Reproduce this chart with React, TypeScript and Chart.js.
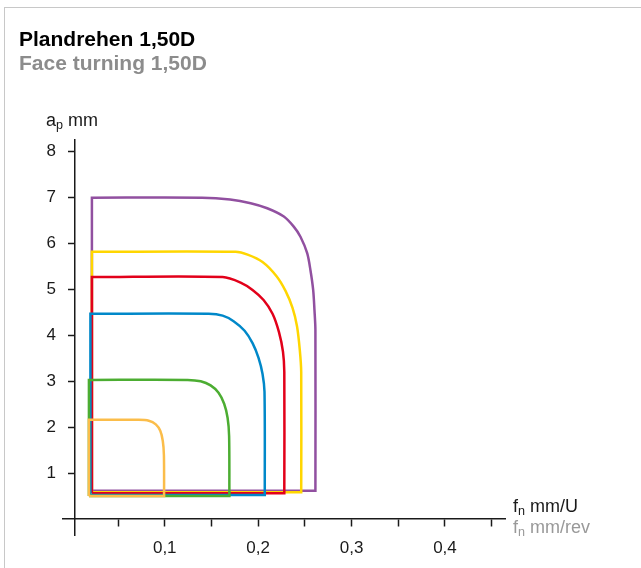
import React, { useEffect, useRef } from "react";
import { Chart, registerables } from "chart.js";

Chart.register(...registerables);

const FONT = '"Liberation Sans", Arial, Helvetica, sans-serif';

// Tick values and labels
const xTickValues = [0.05, 0.1, 0.15, 0.2, 0.25, 0.3, 0.35, 0.4, 0.45];
const xTickLabels = ["", "0,1", "", "0,2", "", "0,3", "", "0,4", ""];
const yTickValues = [1, 2, 3, 4, 5, 6, 7, 8];
const yTickLabels = ["1", "2", "3", "4", "5", "6", "7", "8"];

// Each shape (f_n mm/U, a_p mm): bottom-left, top-left, end of flat top, rounded corner..., bottom-right
const orangeShape: [number, number][] = [
  [0.0188, 0.5], [0.0188, 2.16], [0.0722, 2.16], [0.0829, 2.14], [0.0904, 2.06],
  [0.0952, 1.92], [0.0979, 1.7], [0.0991, 1.39], [0.0993, 0.5],
];
const greenShape: [number, number][] = [
  [0.0188, 0.5], [0.0188, 3.03], [0.1246, 3.03], [0.1385, 3.0], [0.1491, 2.91],
  [0.1576, 2.75], [0.1636, 2.51], [0.1673, 2.2], [0.1689, 1.81], [0.1692, 0.5],
];
const blueShape: [number, number][] = [
  [0.0204, 0.52], [0.0204, 4.47], [0.147, 4.47], [0.162, 4.43], [0.1737, 4.31],
  [0.1855, 4.1], [0.194, 3.83], [0.2004, 3.51], [0.2047, 3.16], [0.2068, 2.77], [0.2071, 0.52],
];
const redShape: [number, number][] = [
  [0.022, 0.56], [0.022, 5.27], [0.162, 5.27], [0.1812, 5.15], [0.194, 4.99],
  [0.2058, 4.77], [0.2154, 4.47], [0.2223, 4.07], [0.2266, 3.64], [0.228, 3.2], [0.228, 0.56],
];
const yellowShape: [number, number][] = [
  [0.022, 0.58], [0.022, 5.82], [0.1759, 5.82], [0.1887, 5.76], [0.2047, 5.6],
  [0.2197, 5.29], [0.2293, 4.97], [0.2368, 4.6], [0.2416, 4.2], [0.2446, 3.68],
  [0.2461, 3.2], [0.2461, 0.58],
];
const purpleShape: [number, number][] = [
  [0.022, 0.617], [0.022, 7.0], [0.14, 7.0], [0.17, 6.96], [0.192, 6.88],
  [0.2097, 6.77], [0.2275, 6.59], [0.2381, 6.37], [0.2453, 6.15], [0.2525, 5.79],
  [0.256, 5.42], [0.2589, 4.99], [0.2603, 4.55], [0.2613, 4.12], [0.2613, 0.617],
];

const shapes = [
  { name: "orange", color: "#fbbd4a", points: orangeShape },
  { name: "green", color: "#4cad32", points: greenShape },
  { name: "blue", color: "#0088c9", points: blueShape },
  { name: "red", color: "#e2001a", points: redShape },
  { name: "yellow", color: "#ffd600", points: yellowShape },
  { name: "purple", color: "#9150a0", points: purpleShape },
];

// Closed outline; sharp corners are kept sharp by repeating the corner point
function outline(pts: [number, number][]) {
  const n = pts.length;
  const seq: [number, number][] = [pts[0], pts[1], pts[1]];
  for (let i = 2; i < n - 1; i++) seq.push(pts[i]);
  seq.push(pts[n - 1], pts[n - 1], pts[0]);
  return seq.map(([x, y]) => ({ x, y }));
}

export default function App() {
  const canvasRef = useRef<HTMLCanvasElement | null>(null);

  useEffect(() => {
    const canvas = canvasRef.current;
    if (!canvas) return;
    const datasets = shapes.map((s, i) => ({
      label: s.name,
      data: outline(s.points),
      borderColor: s.color,
      borderWidth: 2.5,
      pointRadius: 0,
      showLine: true,
      tension: 0.3,
      fill: false,
      order: i,
      xAxisID: "x",
      yAxisID: "y",
    }));

    const chart = new Chart(canvas, {
      type: "scatter",
      data: { datasets },
      options: {
        animation: false,
        responsive: false,
        devicePixelRatio: 1,
        layout: { padding: { left: 39.5, top: 140, right: 136, bottom: 33 } },
        plugins: { legend: { display: false }, tooltip: { enabled: false }, title: { display: false } },
        scales: {
          x: {
            type: "linear",
            min: -0.009,
            max: 0.4643,
            position: { y: 0 } as any,
            afterBuildTicks: (scale: any) => {
              scale.ticks = xTickValues.map((v) => ({ value: v }));
            },
            ticks: {
              autoSkip: false,
              maxRotation: 0,
              padding: 12,
              color: "#1a1a1a",
              font: { family: FONT, size: 17 },
              callback: (_v: any, index: number) => xTickLabels[index],
            },
            grid: {
              drawOnChartArea: false,
              drawTicks: true,
              tickLength: 7,
              tickWidth: 1.5,
              tickColor: "#1a1a1a",
              color: "#1a1a1a",
            },
            border: { display: true, color: "#1a1a1a", width: 1.5 },
          },
          y: {
            type: "linear",
            min: -0.349,
            max: 8.257,
            position: { x: 0.004 } as any,
            afterBuildTicks: (scale: any) => {
              scale.ticks = yTickValues.map((v) => ({ value: v }));
            },
            ticks: { display: false },
            grid: {
              drawOnChartArea: false,
              drawTicks: true,
              tickLength: 6,
              tickWidth: 1.5,
              tickColor: "#1a1a1a",
              color: "#1a1a1a",
            },
            border: { display: true, color: "#1a1a1a", width: 1.5 },
          },
          yLabels: {
            type: "linear",
            axis: "y",
            min: -0.349,
            max: 8.257,
            position: "left",
            afterBuildTicks: (scale: any) => {
              scale.ticks = yTickValues.map((v) => ({ value: v }));
            },
            ticks: {
              autoSkip: false,
              padding: 7,
              color: "#1a1a1a",
              font: { family: FONT, size: 17 },
              callback: (_v: any, index: number) => yTickLabels[index],
            },
            grid: { display: false, drawTicks: false, drawOnChartArea: false },
            border: { display: false },
          },
        },
      },
    } as any);
    return () => chart.destroy();
  }, []);

  const txt = (fs: number, baseline: number): React.CSSProperties => ({
    position: "absolute",
    top: baseline - 0.8465 * fs,
    fontSize: fs,
    lineHeight: `${fs}px`,
    fontFamily: FONT,
    whiteSpace: "nowrap",
  });
  const sub: React.CSSProperties = { fontSize: "0.7em", verticalAlign: "-0.25em", lineHeight: 0 };

  return (
    <div style={{ position: "fixed", left: 0, top: 0, width: 641, height: 568, background: "#fff", overflow: "hidden" }}>
      <div style={{ position: "absolute", left: 4, top: 7, width: 700, height: 700, border: "1px solid #c8c8c8", boxSizing: "border-box" }} />
      <canvas ref={canvasRef} width={641} height={568} style={{ position: "absolute", left: 0, top: 0, width: 641, height: 568 }} />
      <div style={{ ...txt(21, 45.3), left: 19, fontWeight: "bold", color: "#000" }}>Plandrehen 1,50D</div>
      <div style={{ ...txt(21, 70), left: 19, fontWeight: "bold", color: "#8c8c8c" }}>Face turning 1,50D</div>
      <div style={{ ...txt(18, 126.5), left: 46, color: "#1a1a1a" }}>a<span style={sub}>p</span> mm</div>
      <div style={{ ...txt(18, 512.3), left: 513, color: "#1a1a1a" }}>f<span style={sub}>n</span> mm/U</div>
      <div style={{ ...txt(18, 533.3), left: 513, color: "#999999" }}>f<span style={sub}>n</span> mm/rev</div>
    </div>
  );
}
